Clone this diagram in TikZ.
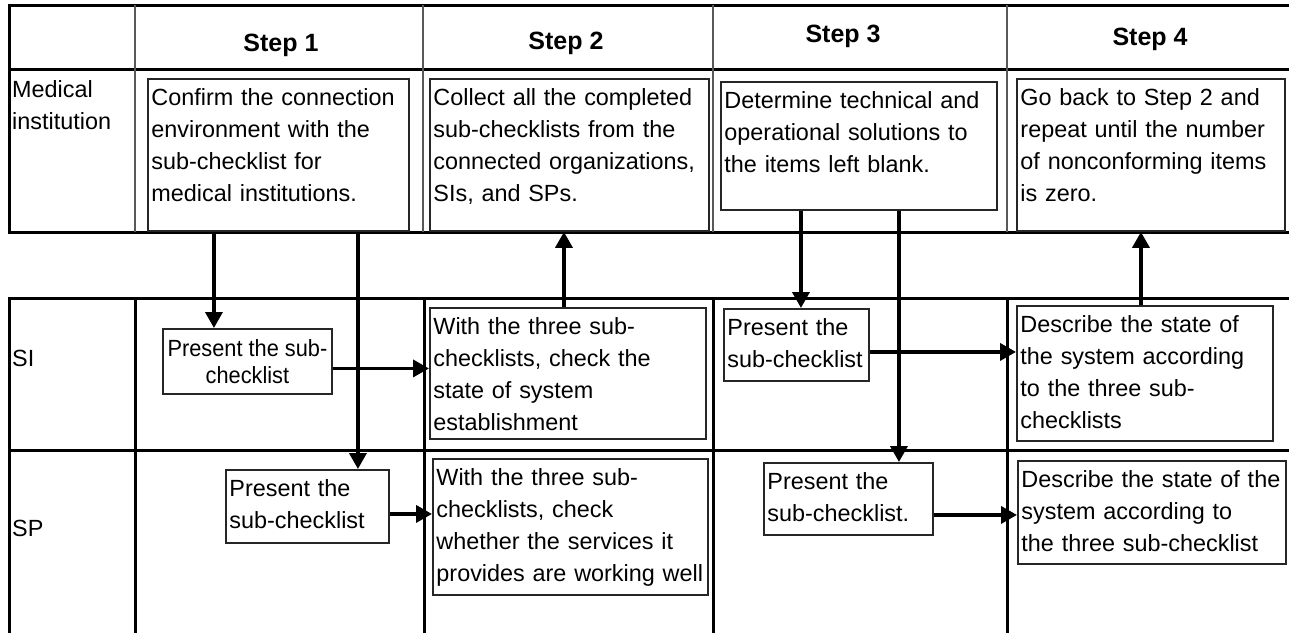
\documentclass[tikz,border=0pt]{standalone}
\usepackage{fontspec}
\setmainfont{Liberation Sans}
\newfontfamily\narrowfont[FakeStretch=0.93]{Liberation Sans}
\usetikzlibrary{arrows.meta}

\begin{document}
\begin{tikzpicture}[x=1pt,y=-1pt,
  cellbox/.style={draw=black!85, line width=1.9pt, anchor=north west, align=left,
    inner xsep=3.5pt, inner ysep=4pt, text height=23pt, font=\fontsize{23.4}{32}\selectfont},
  rowlabel/.style={anchor=north west, align=left, inner sep=0pt, text width=120pt,
    text height=23pt, font=\fontsize{23.4}{32}\selectfont},
  steplabel/.style={anchor=base, font=\fontsize{25}{30}\selectfont\bfseries},
  flow/.style={line width=3.6pt, -{Triangle[length=16pt,width=17pt]}}]

\useasboundingbox (0,0) rectangle (1289,633);

% Draw the top table (medical institution row)
\draw[line width=3pt] (1289,5) -- (9,5) -- (9,232) -- (1289,232);
\draw[line width=3pt] (9,69) -- (1289,69);
\foreach \x in {135,423,713,1007}
    \draw[black!65, line width=2.2pt] (\x,5) -- (\x,232);

% Draw the bottom table (SI and SP rows), open at the bottom
\draw[line width=3pt] (1289,298) -- (9,298) -- (9,633);
\draw[line width=3pt] (9,450) -- (1289,450);
\foreach \x in {135,424,713,1007}
    \draw[line width=3pt] (\x,298) -- (\x,633);

% Step headers
\node[steplabel] (s1) at (281,51) {Step 1};
\node[steplabel] (s2) at (566,49) {Step 2};
\node[steplabel] (s3) at (843,42) {Step 3};
\node[steplabel] (s4) at (1150,45) {Step 4};

% Row labels
\node[rowlabel] (mi) at (12,74) {Medical\\institution};
\node[rowlabel] (si) at (12,343) {SI};
\node[rowlabel] (sp) at (12,513) {SP};

% Medical institution boxes
\node[cellbox, text width=254pt, text depth=121pt] (mi1) at (147,78)
    {Confirm the connection\\environment with the\\sub-checklist for\\medical institutions.};
\node[cellbox, text width=272pt, text depth=121pt] (mi2) at (429,78)
    {Collect all the completed\\sub-checklists from the\\connected organizations,\\SIs, and SPs.};
\node[cellbox, text width=269pt, text depth=97pt] (mi3) at (720,81)
    {Determine technical and\\operational solutions to\\the items left blank.};
\node[cellbox, text width=261pt, text depth=121pt] (mi4) at (1016,78)
    {Go back to Step 2 and\\repeat until the number\\of nonconforming items\\is zero.};

% SI boxes
\node[draw=black!85, line width=1.9pt, anchor=north west, align=center, inner sep=0pt,
    minimum width=169pt, minimum height=65pt, font=\narrowfont\fontsize{23.4}{27}\selectfont]
    (si1) at (162,328) {Present the sub-\\checklist};
\node[cellbox, text width=269pt, text depth=100pt] (si2) at (429,307)
    {With the three sub-\\checklists, check the\\state of system\\establishment};
\node[cellbox, text width=138pt, text depth=41pt] (si3) at (723,308)
    {Present the\\sub-checklist};
\node[cellbox, text width=249pt, text depth=104pt] (si4) at (1016,305)
    {Describe the state of\\the system according\\to the three sub-\\checklists};

% SP boxes
\node[cellbox, text width=156pt, text depth=42pt] (sp1) at (225,469)
    {Present the\\sub-checklist};
\node[cellbox, text width=268pt, text depth=105pt] (sp2) at (432,458)
    {With the three sub-\\checklists, check\\whether the services it\\provides are working well};
\node[cellbox, text width=162pt, text depth=41pt] (sp3) at (763,462)
    {Present the\\sub-checklist.};
\node[cellbox, text width=261pt, text depth=72pt] (sp4) at (1017,460)
    {Describe the state of the\\system according to\\the three sub-checklist};

% Step 1 arrows
\draw[flow] ([xshift=-64.5pt]mi1.south) -- ([xshift=-64.5pt]mi1.south |- si1.north);
\draw[flow] ([xshift=79.5pt]mi1.south) -- ([xshift=79.5pt]mi1.south |- sp1.north);
\draw[flow] ([yshift=-7pt]si1.east) -- ([yshift=-7pt]si1.east -| si2.west);
\draw[flow] ([yshift=-7.5pt]sp1.east) -- ([yshift=-7.5pt]sp1.east -| sp2.west);

% Step 2 arrow
\draw[flow] ([xshift=-4pt]si2.north) -- ([xshift=-4pt]si2.north |- mi2.south);

% Step 3 arrows
\draw[flow] ([xshift=-58pt]mi3.south) -- ([xshift=-58pt]mi3.south |- si3.north);
\draw[flow] ([xshift=40pt]mi3.south) -- ([xshift=40pt]mi3.south |- sp3.north);
\draw[flow] ([yshift=-7pt]si3.east) -- ([yshift=-7pt]si3.east -| si4.west);
\draw[flow] ([yshift=-16pt]sp3.east) -- ([yshift=-16pt]sp3.east -| sp4.west);

% Step 4 arrow
\draw[flow] ([xshift=-4pt]si4.north) -- ([xshift=-4pt]si4.north |- mi4.south);

\end{tikzpicture}
\end{document}
